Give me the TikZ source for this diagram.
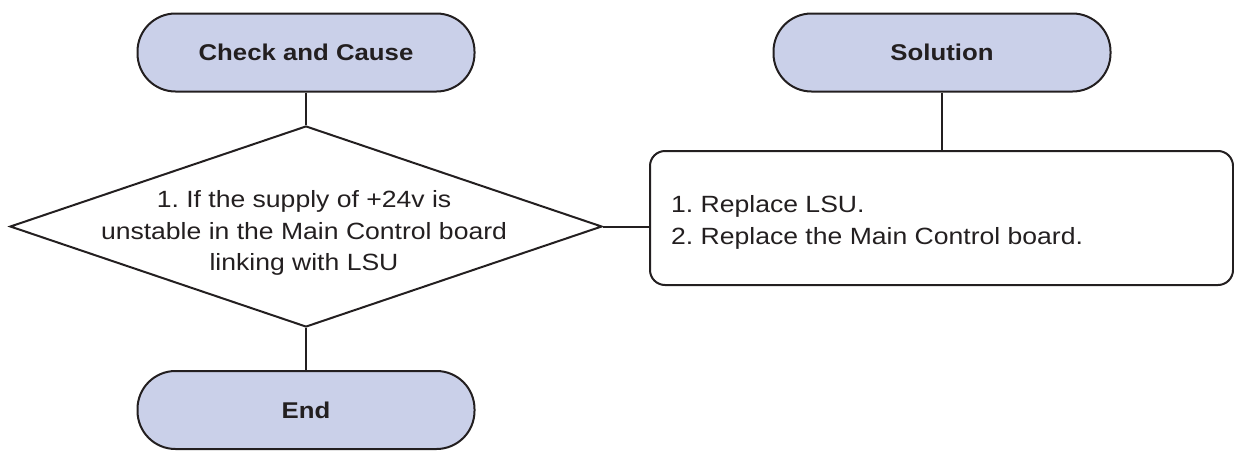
\documentclass[tikz,border=0pt]{standalone}
\usepackage{fontspec}
\setmainfont{Liberation Sans}[FakeStretch=1.13]
\usetikzlibrary{shapes.geometric, positioning}
\definecolor{TF}{RGB}{202,208,233}
\definecolor{DK}{RGB}{35,31,32}
\frenchspacing

\begin{document}
\begin{tikzpicture}[x=1pt, y=-1pt,
  term/.style={draw=DK, fill=TF, line width=2pt, rounded corners=38pt,
               minimum width=337pt, minimum height=78pt, text=DK,
               font=\fontsize{22.8}{31}\selectfont\bfseries},
  dec/.style={draw=DK, line width=2pt, diamond, inner sep=0pt,
              minimum width=592pt, minimum height=201pt},
  fixbox/.style={draw=DK, line width=2pt, rounded corners=15pt,
                 minimum width=583pt, minimum height=134pt},
  txt/.style={inner sep=0pt, text=DK, font=\fontsize{23.5}{31.5}\selectfont},
  con/.style={draw=DK, line width=2pt}
]
\useasboundingbox (0,0) rectangle (1234,450);

\node[term]   (cc)  at (306,52.5)  {Check and Cause};
\node[term]   (sol) at (942,52.5)  {Solution};
\node[dec]    (chk) at (306,226.5) {};
\node[txt, align=center, anchor=base] (chktxt) at (304,270.7)
  {1. If the supply of +24v is\\unstable in the Main Control board\\linking with LSU};
\node[term]   (end) at (306,410)   {End};
\node[fixbox] (fix) at (941.5,218) {};
\node[txt, align=left, anchor=base west] (fixtxt) at (671,244)
  {1. Replace LSU.\\2. Replace the Main Control board.};

\draw[con] (cc) -- (chk);
\draw[con] (chk) -- (end);
\draw[con] (chk.east) -- (chk.east -| fix.west);
\draw[con] (sol.south) -- (sol.south |- fix.north);
\end{tikzpicture}
\end{document}
